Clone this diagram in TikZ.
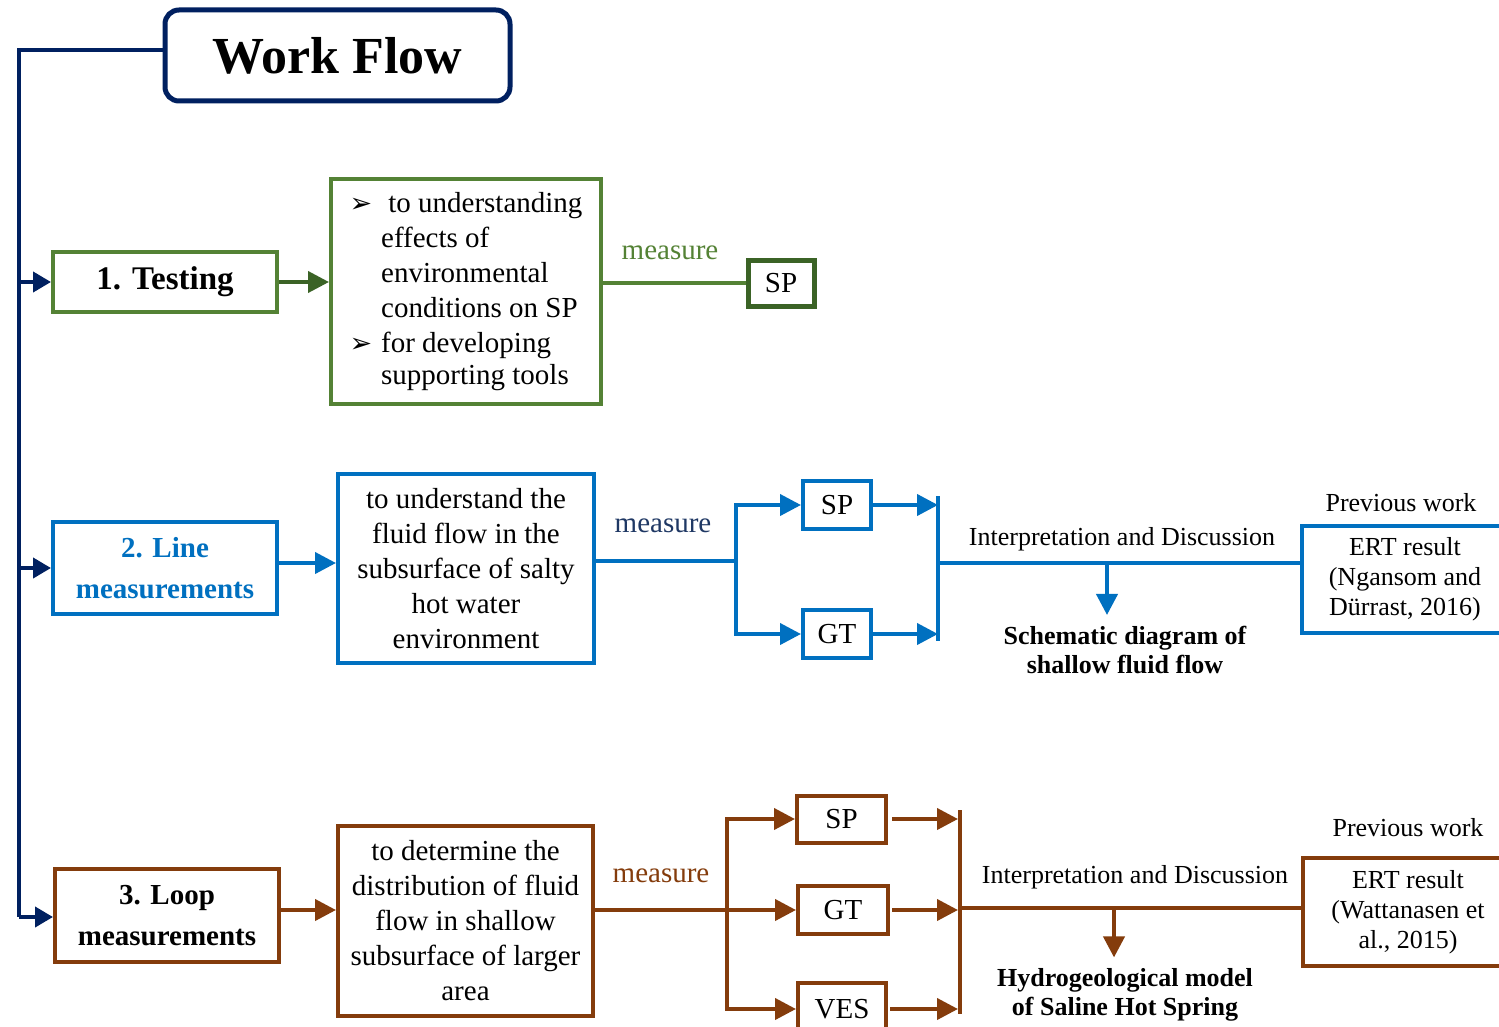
\documentclass[tikz,border=0pt]{standalone}
\usepackage{fontspec}
\setmainfont{Liberation Serif}
\newfontfamily\dingfont{DejaVu Sans}
\usetikzlibrary{arrows.meta,calc}

\definecolor{navy}{HTML}{002060}
\definecolor{grn}{HTML}{548235}
\definecolor{dgrn}{HTML}{3B6326}
\definecolor{blu}{HTML}{0070C0}
\definecolor{brn}{HTML}{843C0C}
\definecolor{mnavy}{HTML}{1F3864}

\newcommand\fsz[2]{\fontsize{#1}{#2}\selectfont}

\tikzset{
  box/.style={draw, line width=4pt, inner sep=0pt, align=center, fill=white, font=\fsz{29}{35}},
  conn/.style={line width=4pt},
  tip/.style={-{Triangle[length=21pt,width=21pt]}},
  tips/.style={{Triangle[length=21pt,width=21pt]}-{Triangle[length=21pt,width=21pt]}},
  label/.style={inner sep=0pt, font=\fsz{29}{35}},
  small/.style={inner sep=0pt, font=\fsz{26}{30}, align=center},
  result/.style={inner xsep=2pt, inner ysep=11pt, font=\fsz{26}{29}\bfseries, align=center},
}

\begin{document}
\begin{tikzpicture}[x=1pt,y=-1pt]
\useasboundingbox (0,0) rectangle (1499,1027);
\fill[white] (0,0) rectangle (1499,1027);

% title and spine
\node[box, draw=navy, line width=5pt, rounded corners=14pt, minimum width=345pt,
      minimum height=91pt, font=\fsz{52}{60}\bfseries] (wf) at (337.5,55.5) {Work Flow};
\coordinate (top) at (19,50);
\coordinate (bot) at (19,917);

% ---- 1. Testing ----
\node[box, draw=grn, minimum width=224pt, minimum height=60pt,
      font=\fsz{33}{40}\bfseries] (test) at (165,282) {1. Testing};
\node[box, draw=grn, minimum width=270pt, minimum height=225pt] (goal1) at (466,291.5)
  {\begin{tabular}{@{}l@{\hspace{9pt}}l@{}}
   {\dingfont\fsz{27}{35}➢} & \ to understanding\\
   & effects of\\
   & environmental\\
   & conditions on SP\\
   {\dingfont\fsz{27}{35}➢} & for developing\\[-3pt]
   & supporting tools
   \end{tabular}};
\node[box, draw=dgrn, line width=5pt, minimum width=66pt, minimum height=46pt] (sp1) at (781,283) {SP};
\node[label, text=grn] (m1) at (670,253) {measure};

\draw[conn, dgrn, tip] (test.east) -- (test.east -| goal1.west);
\draw[conn, grn] (goal1.east |- sp1) -- (sp1.west);

% ---- 2. Line measurements ----
\node[box, draw=blu, text=blu, minimum width=224pt, minimum height=92pt,
      font=\fsz{29}{41}\bfseries] (lineL) at (165,568) {2. Line\\measurements};
\node[box, draw=blu, minimum width=256pt, minimum height=189pt] (goal2) at (466,568.5)
  {to understand the\\fluid flow in the\\subsurface of salty\\hot water\\environment};
\node[label, text=mnavy] (m2) at (663,526) {measure};
\node[box, draw=blu, minimum width=68pt, minimum height=48pt] (sp2) at (837,505) {SP};
\node[box, draw=blu, minimum width=68pt, minimum height=48pt] (gt2) at (837,634) {GT};
\node[box, draw=blu, minimum width=206pt, minimum height=107pt, font=\fsz{26}{30}] (ert2) at (1405,579.5)
  {ERT result\\(Ngansom and\\Dürrast, 2016)};
\node[small] (pw2) at (1401,503) {Previous work};
\node[small] (iad2) at (1122,539) {Interpretation and Discussion};
\node[result] (schem) at (1125,650) {Schematic diagram of\\shallow fluid flow};

\coordinate (j2) at (736,561);
\coordinate (k2) at (938,563);
\coordinate (d2) at (1107,563);
\draw[conn, blu, tip] ([yshift=5pt]lineL.east) -- ([yshift=5pt]lineL.east -| goal2.west);
\draw[conn, blu] (goal2.east |- j2) -- (j2);
\draw[conn, blu, tips] (sp2.west) -- (j2 |- sp2) -- (j2 |- gt2) -- (gt2.west);
\draw[conn, blu, tip] (sp2.east) -- (k2 |- sp2);
\draw[conn, blu, tip] (gt2.east) -- (k2 |- gt2);
\draw[conn, blu] ([yshift=9pt]k2 |- sp2) -- ([yshift=-7pt]k2 |- gt2);
\draw[conn, blu] (k2) -- (k2 -| ert2.west);
\draw[conn, blu, tip] (d2) -- (d2 |- schem.north);

% ---- 3. Loop measurements ----
\node[box, draw=brn, minimum width=224pt, minimum height=93pt,
      font=\fsz{29}{41}\bfseries] (loopL) at (167,915.5) {3. Loop\\measurements};
\node[box, draw=brn, minimum width=255pt, minimum height=190pt] (goal3) at (465.5,921)
  {to determine the\\distribution of fluid\\flow in shallow\\subsurface of larger\\area};
\node[label, text=brn] (m3) at (661,876) {measure};
\node[box, draw=brn, minimum width=89pt, minimum height=47pt] (sp3) at (841.5,819) {SP};
\node[box, draw=brn, minimum width=90pt, minimum height=48pt] (gt3) at (843,910) {GT};
\node[box, draw=brn, minimum width=88pt, minimum height=52pt] (ves3) at (842,1009) {VES};
\node[box, draw=brn, minimum width=210pt, minimum height=108pt, font=\fsz{26}{30}] (ert3) at (1408,912)
  {ERT result\\(Wattanasen et\\al., 2015)};
\node[small] (pw3) at (1408,828) {Previous work};
\node[small] (iad3) at (1135,877) {Interpretation and Discussion};
\node[result] (hydro) at (1125,995) {Hydrogeological model\\of Saline Hot Spring};

\coordinate (j3) at (727,910);
\coordinate (k3) at (960,908);
\coordinate (d3) at (1114,908);
\draw[conn, brn, tip] ([yshift=5.5pt]loopL.east) -- ([yshift=5.5pt]loopL.east -| goal3.west);
\draw[conn, brn] (goal3.east |- j3) -- (j3);
\draw[conn, brn, tips] (sp3.west) -- (j3 |- sp3) -- (j3 |- ves3) -- (ves3.west);
\draw[conn, brn, tip] (j3) -- (gt3.west);
\draw[conn, brn, tip] ([xshift=4pt]sp3.east) -- ([xshift=-2pt]k3 |- sp3);
\draw[conn, brn, tip] ([xshift=2pt]gt3.east) -- ([xshift=-2pt]k3 |- gt3);
\draw[conn, brn, tip] ([xshift=2pt]ves3.east) -- ([xshift=-2pt]k3 |- ves3);
\draw[conn, brn] ([yshift=9pt]k3 |- sp3) -- ([yshift=-5pt]k3 |- ves3);
\draw[conn, brn] (k3) -- (k3 -| ert3.west);
\draw[conn, brn, tip] (d3) -- (d3 |- hydro.north);

% spine with branch arrows
\draw[conn, navy] (wf.west |- top) -- (top) -- (bot);
\draw[conn, navy, -{Triangle[length=18pt,width=20pt]}] (test.west -| top) -- (test.west);
\draw[conn, navy, -{Triangle[length=18pt,width=20pt]}] (lineL.west -| top) -- (lineL.west);
\draw[conn, navy, -{Triangle[length=18pt,width=20pt]}] (bot) -- (bot -| loopL.west);
\end{tikzpicture}
\end{document}
